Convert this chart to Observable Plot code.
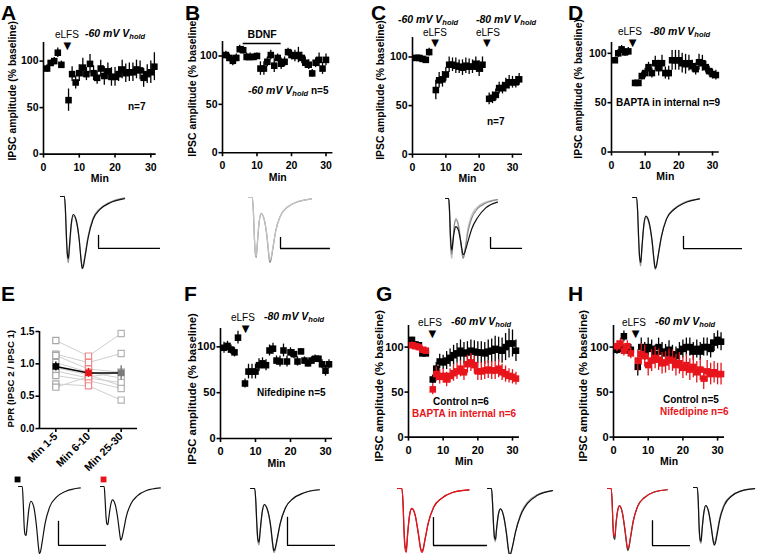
<!DOCTYPE html>
<html><head><meta charset="utf-8">
<script src="https://cdn.jsdelivr.net/npm/d3@7"></script>
<script src="https://cdn.jsdelivr.net/npm/@observablehq/plot@0.6"></script>
<style>
html,body{margin:0;padding:0;background:#fff}
#fig{position:relative;width:760px;height:554px;overflow:hidden;font-family:"Liberation Sans",Arial,sans-serif;color:#000}
#fig svg{position:absolute;overflow:visible}
.letter{position:absolute;font-size:21px;font-weight:bold;line-height:21px}
.ann{position:absolute;font-size:10px;line-height:12px;white-space:nowrap;transform:translateY(-50%)}
.b{font-weight:bold}
.vh{font-weight:bold;font-style:italic;font-size:10.5px}
.vh sub{font-size:7.5px;vertical-align:-2px}
</style></head>
<body><div id="fig"></div>
<script>
// ================= DATA =================
const yLabel = "IPSC amplitude (% baseline)";
const xLabel = "Min";
const pprLabel = "PPR (IPSC 2 / IPSC 1)";
const timeTicks = [0, 10, 20, 30];
const ampTicks = [0, 50, 100];
const pprTicks = [0, 0.5, 1.0, 1.5];

const preMin = [1, 2, 3, 4, 5];
const postMin = [7, 8, 9, 10, 11, 12, 13, 14, 15, 16, 17, 18, 19, 20, 21, 22, 23, 24, 25, 26, 27, 28, 29, 30, 31];
const stdMin = preMin.concat(postMin);

// A
const aVal = [92, 98, 100, 109, 96, 58, 86, 77, 87, 93, 86, 97, 87, 82, 92, 84, 89, 83, 83, 86, 91, 87, 88, 88, 91, 90, 82, 86, 88, 94];
const aErr = [4, 3, 4, 5, 4, 12, 8, 7, 9, 10, 7, 10, 8, 7, 9, 10, 9, 10, 10, 8, 10, 10, 10, 10, 10, 10, 10, 10, 12, 15];
// B
const bMin = [1, 2, 3, 4, 5, 6, 7, 8, 9, 10, 11, 12, 13, 14, 15, 16, 17, 18, 19, 20, 21, 22, 23, 24, 25, 26, 27, 28, 29, 30];
const bVal = [101, 98, 95, 98, 107, 106, 99, 99, 99, 100, 87, 87, 94, 101, 90, 98, 92, 94, 104, 101, 100, 101, 98, 93, 91, 82, 93, 96, 87, 96];
const bErr = [4, 4, 5, 4, 4, 4, 4, 4, 3, 3, 7, 7, 5, 5, 7, 4, 6, 5, 4, 5, 6, 8, 6, 6, 5, 4, 5, 7, 6, 6];
const bdnfBar = [{start: 6, end: 17, level: 113, label: "BDNF"}];
// C
const cMin = [1, 2, 3, 4, 5, 7, 8, 9, 10, 11, 12, 13, 14, 15, 16, 17, 18, 19, 20, 21, 23, 24, 25, 26, 27, 28, 29, 30, 31, 32];
const cVal = [99, 99, 98, 97, 105, 66, 76, 77, 82, 92, 92, 91, 90, 89, 91, 90, 90, 93, 88, 92, 57, 58, 61, 68, 68, 71, 74, 74, 74, 77];
const cErr = [3, 3, 3, 3, 4, 10, 8, 8, 7, 8, 7, 8, 7, 8, 8, 8, 7, 7, 8, 8, 6, 6, 6, 6, 6, 7, 7, 6, 6, 6];
// D
const dVal = [93, 100, 104, 101, 102, 70, 70, 77, 80, 86, 80, 90, 85, 90, 80, 80, 93, 93, 93, 90, 89, 90, 87, 84, 91, 90, 86, 82, 79, 78];
const dErr = [3, 4, 4, 4, 4, 3, 3, 4, 5, 5, 5, 7, 8, 8, 6, 7, 10, 10, 10, 10, 10, 8, 6, 6, 8, 8, 6, 5, 5, 5];
// E
const eCats = ["Min 1-5", "Min 6-10", "Min 25-30"];
const eCells = [
  [1.36, 1.12, 1.47], [1.15, 1.02, 1.16], [1.13, 0.92, 0.87], [1.02, 0.87, 0.78],
  [0.94, 0.83, 0.66], [0.89, 0.78, 0.71], [0.82, 0.74, 0.62], [0.69, 0.66, 0.44], [0.64, 0.80, 0.87]
];
const eMean = [0.96, 0.86, 0.86];
const eSem = [0.07, 0.07, 0.11];
// F
const fVal = [99, 101, 97, 94, 110, 60, 73, 73, 73, 80, 82, 80, 96, 98, 85, 84, 96, 84, 94, 92, 84, 95, 85, 82, 85, 87, 87, 81, 74, 81];
const fErr = [6, 5, 5, 5, 7, 5, 8, 8, 8, 7, 6, 6, 6, 6, 5, 6, 7, 6, 5, 5, 5, 3, 4, 4, 4, 4, 3, 5, 6, 5];
// G
const gCtrlVal = [108, 103, 102, 93, 93, 64, 76, 84, 83, 85, 88, 91, 93, 96, 93, 94, 96, 95, 94, 94, 93, 95, 96, 98, 97, 96, 100, 104, 104, 96];
const gCtrlErr = [3, 3, 3, 3, 3, 5, 7, 8, 8, 10, 10, 11, 11, 12, 12, 12, 12, 12, 12, 12, 12, 13, 13, 14, 14, 14, 15, 16, 15, 12];
const gBaptaVal = [102, 101, 100, 97, 96, 53, 70, 67, 68, 64, 68, 71, 73, 76, 72, 81, 83, 80, 73, 73, 74, 75, 74, 74, 76, 72, 70, 68, 67, 65];
const gBaptaErr = [4, 4, 4, 4, 4, 6, 8, 8, 8, 8, 8, 9, 9, 9, 9, 10, 10, 10, 10, 10, 10, 10, 10, 10, 10, 9, 9, 8, 8, 7];
// H
const hCtrlVal = [97, 100, 112, 98, 97, 78, 100, 95, 100, 98, 92, 100, 95, 93, 97, 92, 90, 95, 98, 100, 100, 95, 98, 95, 100, 100, 98, 105, 108, 106];
const hCtrlErr = [5, 6, 6, 6, 6, 10, 10, 10, 10, 10, 10, 10, 10, 10, 10, 10, 10, 10, 10, 10, 10, 10, 10, 10, 10, 10, 10, 10, 10, 10];
const hNifVal = [101, 104, 96, 101, 93, 85, 92, 90, 80, 85, 88, 86, 82, 83, 86, 85, 80, 82, 77, 80, 75, 78, 72, 75, 65, 73, 70, 72, 70, 70];
const hNifErr = [6, 6, 6, 6, 6, 12, 12, 12, 12, 12, 12, 12, 12, 12, 12, 12, 12, 12, 12, 12, 12, 12, 12, 12, 12, 12, 12, 12, 12, 12];

// stimulation times (min)
const stimA = [6.7], stimC = [6.8, 22.3], stimD = [6.3], stimF = [7.2], stimG = [6.9], stimH = [6.4];

// example traces (normalized amplitude vs time, ms-like units)
const traceTime = [0, 4, 5, 6, 7, 8, 9, 11, 13, 16, 19, 21, 22, 23, 25, 28, 33, 40, 50, 65];
const trA1 = [0, 0, -0.2, -0.6, -0.85, -0.92, -0.75, -0.4, -0.27, -0.35, -0.6, -0.88, -0.97, -0.95, -0.8, -0.55, -0.3, -0.17, -0.08, -0.02];
const trA2 = [0, 0, -0.18, -0.55, -0.8, -0.86, -0.7, -0.37, -0.25, -0.33, -0.6, -0.9, -1.0, -0.98, -0.83, -0.58, -0.32, -0.18, -0.09, -0.03];
const trB1 = [0, 0, -0.2, -0.6, -0.86, -0.92, -0.74, -0.38, -0.25, -0.33, -0.6, -0.9, -1.0, -0.97, -0.8, -0.52, -0.28, -0.15, -0.07, -0.02];
const trB2 = [0, 0, -0.2, -0.58, -0.84, -0.9, -0.72, -0.37, -0.24, -0.32, -0.58, -0.87, -0.96, -0.94, -0.78, -0.52, -0.28, -0.15, -0.07, -0.02];
const trC1 = [0, 0, -0.25, -0.7, -0.95, -1.0, -0.8, -0.45, -0.33, -0.42, -0.7, -0.92, -0.98, -0.95, -0.78, -0.5, -0.27, -0.14, -0.06, -0.02];
const trC2 = [0, 0, -0.22, -0.62, -0.88, -0.93, -0.76, -0.45, -0.35, -0.45, -0.72, -0.94, -1.0, -0.97, -0.82, -0.56, -0.32, -0.17, -0.08, -0.02];
const trC3 = [0, 0, -0.18, -0.55, -0.8, -0.86, -0.75, -0.55, -0.47, -0.52, -0.72, -0.88, -0.93, -0.93, -0.86, -0.72, -0.5, -0.32, -0.16, -0.06];
const trD1 = [0, 0, -0.2, -0.62, -0.88, -0.95, -0.75, -0.4, -0.28, -0.36, -0.62, -0.9, -1.0, -0.97, -0.8, -0.54, -0.29, -0.16, -0.07, -0.02];
const trD2 = [0, 0, -0.2, -0.58, -0.84, -0.9, -0.72, -0.38, -0.26, -0.34, -0.6, -0.88, -0.98, -0.96, -0.8, -0.55, -0.3, -0.17, -0.08, -0.02];
const trE1 = [0, 0, -0.25, -0.6, -0.72, -0.73, -0.6, -0.33, -0.22, -0.3, -0.6, -0.9, -1.0, -0.98, -0.82, -0.55, -0.3, -0.16, -0.07, -0.02];
const trE2 = [0, 0, -0.2, -0.45, -0.56, -0.57, -0.47, -0.28, -0.2, -0.27, -0.5, -0.72, -0.8, -0.78, -0.66, -0.45, -0.26, -0.14, -0.06, -0.02];
const trF1 = [0, 0, -0.2, -0.6, -0.84, -0.88, -0.7, -0.38, -0.26, -0.34, -0.6, -0.9, -1.0, -0.98, -0.82, -0.55, -0.3, -0.16, -0.07, -0.02];
const trF2 = [0, 0, -0.2, -0.56, -0.8, -0.84, -0.68, -0.37, -0.25, -0.33, -0.58, -0.87, -0.97, -0.95, -0.8, -0.55, -0.3, -0.16, -0.07, -0.02];
const trG1 = [0, 0, -0.22, -0.7, -0.93, -0.97, -0.75, -0.4, -0.3, -0.4, -0.7, -0.92, -0.97, -0.95, -0.78, -0.52, -0.28, -0.15, -0.06, -0.02];
const trG2 = [0, 0, -0.2, -0.65, -0.88, -0.92, -0.72, -0.4, -0.3, -0.4, -0.68, -0.9, -0.95, -0.93, -0.77, -0.52, -0.28, -0.15, -0.06, -0.02];
const trG3 = [0, 0, -0.2, -0.55, -0.75, -0.78, -0.62, -0.38, -0.3, -0.4, -0.68, -0.93, -1.0, -0.98, -0.86, -0.64, -0.38, -0.2, -0.09, -0.03];
const trG4 = [0, 0, -0.2, -0.52, -0.72, -0.75, -0.6, -0.37, -0.3, -0.4, -0.66, -0.9, -0.97, -0.96, -0.85, -0.64, -0.4, -0.22, -0.1, -0.03];
const trH1 = [0, 0, -0.2, -0.6, -0.76, -0.78, -0.6, -0.36, -0.28, -0.38, -0.66, -0.9, -0.97, -0.95, -0.78, -0.52, -0.28, -0.15, -0.06, -0.02];
const trH2 = [0, 0, -0.2, -0.62, -0.8, -0.82, -0.62, -0.36, -0.28, -0.38, -0.68, -0.92, -1.0, -0.97, -0.8, -0.53, -0.28, -0.15, -0.06, -0.02];
const trH3 = [0, 0, -0.22, -0.7, -0.9, -0.93, -0.74, -0.42, -0.3, -0.4, -0.66, -0.88, -0.92, -0.9, -0.75, -0.5, -0.27, -0.14, -0.06, -0.02];
const trH4 = [0, 0, -0.2, -0.66, -0.86, -0.9, -0.72, -0.42, -0.3, -0.4, -0.68, -0.9, -0.96, -0.94, -0.79, -0.53, -0.29, -0.15, -0.06, -0.02];

// ================= RENDER =================
const fig = document.getElementById("fig");
const FONT = '"Liberation Sans", Arial, sans-serif';
const BLACK = "#000", RED = "#e8141b";

function place(el, left, top) { el.style.left = left + "px"; el.style.top = top + "px"; fig.appendChild(el); }

function rows(min, val, err) { return min.map((m, i) => ({m, v: val[i], e: err[i]})); }

function timePanel(L, series, stims, extraMarks = []) {
  const mL = 50, mR = 10, mT = 56, mB = 40;
  const fw = L.xmax * L.xk, fh = L.ymax * L.yk;
  const marks = [
    Plot.ruleY([0], {strokeWidth: 1.6}),
    Plot.ruleX([0], {strokeWidth: 1.6}),
    Plot.axisX({ticks: timeTicks, tickSize: 4, tickPadding: 5, strokeWidth: 1.6, fontSize: L.fs, label: null}),
    Plot.axisY({ticks: ampTicks, tickSize: 3.5, tickPadding: 1.5, strokeWidth: 1.6, fontSize: L.fs, label: null}),
    Plot.text([yLabel], {text: d => d, x: -L.labOff / L.xk, y: L.labY, rotate: -90, fontSize: L.lfs}),
    Plot.text([xLabel], {text: d => d, frameAnchor: "bottom", dy: 28, fontSize: 10.5})
  ];
  for (const s of series) {
    const data = rows(s.min, s.val, s.err);
    marks.push(Plot.ruleX(data, {x: "m", y1: d => d.v - d.e, y2: d => d.v + d.e, stroke: s.color, strokeWidth: 1.3}));
    marks.push(Plot.dot(data, {x: "m", y: "v", symbol: "square", r: 3.7, fill: s.color, stroke: "none"}));
  }
  if (stims) marks.push(Plot.text(stims.map(s => ({x: s, y: L.stimY})), {x: "x", y: "y", text: () => "\u25BC", fontSize: 10, fontFamily: "DejaVu Sans", fontWeight: "normal"}));
  marks.push(...extraMarks);
  const svg = Plot.plot({
    width: mL + fw + mR, height: mT + fh + mB,
    marginLeft: mL, marginRight: mR, marginTop: mT, marginBottom: mB,
    x: {domain: [0, L.xmax], label: null}, y: {domain: [0, L.ymax], label: null},
    style: {fontFamily: FONT, fontWeight: "bold", background: "transparent", overflow: "visible", color: "#000"},
    marks
  });
  place(svg, L.x0 - mL, L.y0 - fh - mT);
}

// Panel layouts (pixel geometry)
const LA = {x0: 42.7, xk: 3.577, xmax: 31.5, y0: 154, yk: 0.93, ymax: 120, labOff: 30.5, labY: 68, fs: 10.5, lfs: 10.4, stimY: 116};
const LB = {x0: 222, xk: 3.45, xmax: 32, y0: 152, yk: 0.967, ymax: 115, labOff: 30, labY: 68, fs: 10.5, lfs: 10.4};
const LC = {x0: 411.7, xk: 3.333, xmax: 33, y0: 154, yk: 0.973, ymax: 120, labOff: 31.5, labY: 66, fs: 10.5, lfs: 10.4, stimY: 115};
const LD = {x0: 610.7, xk: 3.367, xmax: 32, y0: 152, yk: 0.987, ymax: 111, labOff: 33, labY: 64, fs: 10.5, lfs: 10.4, stimY: 111};
const LF = {x0: 220, xk: 3.5, xmax: 32, y0: 438.3, yk: 0.917, ymax: 120, labOff: 28, labY: 54, fs: 11, lfs: 11.3, stimY: 120};
const LG = {x0: 408.3, xk: 3.467, xmax: 32, y0: 436.7, yk: 0.9, ymax: 124, labOff: 29, labY: 57, fs: 11, lfs: 11.3, stimY: 115};
const LH = {x0: 613, xk: 3.47, xmax: 32, y0: 437, yk: 0.9, ymax: 124, labOff: 30, labY: 57, fs: 11, lfs: 11.3, stimY: 115};

timePanel(LA, [{min: stdMin, val: aVal, err: aErr, color: BLACK}], stimA);
timePanel(LB, [{min: bMin, val: bVal, err: bErr, color: BLACK}], null, [
  Plot.ruleY(bdnfBar, {y: "level", x1: "start", x2: "end", strokeWidth: 1.5}),
  Plot.text(bdnfBar, {x: d => (d.start + d.end) / 2, y: "level", text: "label", dy: -9, fontSize: 10.5})
]);
timePanel(LC, [{min: cMin, val: cVal, err: cErr, color: BLACK}], stimC);
timePanel(LD, [{min: stdMin, val: dVal, err: dErr, color: BLACK}], stimD);
timePanel(LF, [{min: stdMin, val: fVal, err: fErr, color: BLACK}], stimF);
timePanel(LG, [
  {min: stdMin, val: gCtrlVal, err: gCtrlErr, color: BLACK},
  {min: stdMin, val: gBaptaVal, err: gBaptaErr, color: RED}
], stimG);
timePanel(LH, [
  {min: stdMin, val: hCtrlVal, err: hCtrlErr, color: BLACK},
  {min: stdMin, val: hNifVal, err: hNifErr, color: RED}
], stimH);

// Panel E (PPR)
(function () {
  const L = {left: 39, right: 137, y0: 427.7, yk: 64.7, ymax: 1.5, labOff: 29, labY: 0.77};
  const mL = 50, mR = 10, mT = 20, mB = 60;
  const fw = L.right - L.left, fh = L.ymax * L.yk;
  const xk = fw / 3;
  const cellRows = [];
  eCells.forEach((c, ci) => c.forEach((v, i) => cellRows.push({cell: ci, k: i + 1, v})));
  const meanRows = eMean.map((v, i) => ({k: i + 1, v, e: eSem[i]}));
  const openCol = ["#a8a8a8", "#f08a8a", "#b4b4b4"];
  const meanCol = ["#000", RED, "#7a7a7a"];
  const svg = Plot.plot({
    width: mL + fw + mR, height: mT + fh + mB,
    marginLeft: mL, marginRight: mR, marginTop: mT, marginBottom: mB,
    x: {domain: [0.5, 3.5], label: null}, y: {domain: [0, L.ymax], label: null},
    style: {fontFamily: FONT, fontWeight: "bold", background: "transparent", overflow: "visible"},
    marks: [
      Plot.line(cellRows, {x: "k", y: "v", z: "cell", stroke: "#cfcfcf", strokeWidth: 1}),
      Plot.dot(cellRows, {x: "k", y: "v", symbol: "square", r: 3.5, fill: "white", stroke: d => openCol[d.k - 1], strokeWidth: 1.2}),
      Plot.line(meanRows, {x: "k", y: "v", stroke: "#000", strokeWidth: 1.5}),
      Plot.ruleX(meanRows, {x: "k", y1: d => d.v - d.e, y2: d => d.v + d.e, stroke: d => meanCol[d.k - 1], strokeWidth: 1.4}),
      Plot.dot(meanRows, {x: "k", y: "v", symbol: "square", r: 3.7, fill: d => meanCol[d.k - 1], stroke: "none"}),
      Plot.ruleY([0], {strokeWidth: 1.6}),
      Plot.ruleX([0.5], {strokeWidth: 1.6}),
      Plot.axisY({ticks: pprTicks, tickFormat: d3.format(".1f"), tickSize: 3.5, tickPadding: 1.5, strokeWidth: 1.6, fontSize: 10.3, label: null}),
      Plot.axisX({ticks: [1, 2, 3], tickFormat: i => eCats[i - 1], tickRotate: -45, tickSize: 4, tickPadding: 2, strokeWidth: 1.6, fontSize: 10.8, label: null}),
      Plot.text([pprLabel], {text: d => d, x: 0.5 - L.labOff / xk, y: L.labY, rotate: -90, fontSize: 9.6})
    ]
  });
  place(svg, L.left - mL, L.y0 - fh - mT);
})();

// Example traces
function traceGroup(G) {
  const xMax = 112, pad = 12;
  const marks = [];
  G.traces.forEach(([arr, color]) => {
    marks.push(Plot.line(traceTime.map((t, i) => ({t, a: arr[i]})), {x: "t", y: "a", stroke: color, strokeWidth: 1.2, curve: "monotone-x"}));
  });
  if (G.bar) marks.push(
    Plot.ruleX([G.bar], {x: "x", y1: "y1", y2: "y2", strokeWidth: 1.3}),
    Plot.ruleY([G.bar], {y: "y2", x1: "x", x2: "x2", strokeWidth: 1.3})
  );
  if (G.marker) marks.push(Plot.dot([G.marker], {x: "t", y: "a", symbol: "square", r: 3.3, fill: G.marker.color, stroke: "none"}));
  const w = xMax * G.kx, h = G.ky + 2 * pad;
  const svg = Plot.plot({
    width: w, height: h, margin: 0,
    x: {domain: [0, xMax], range: [0, w], axis: null},
    y: {domain: [-1, 0], range: [pad + G.ky, pad], axis: null},
    style: {overflow: "visible", background: "transparent"},
    marks
  });
  place(svg, G.ox, G.oy - pad);
}
const GRAY = "#9a9a9a", LGRAY = "#c4c4c4";
[
  {ox: 60, kx: 0.985, oy: 196, ky: 72, traces: [[trA1, GRAY], [trA2, "#111"]], bar: {x: 38.6, x2: 101.5, y1: -0.54, y2: -0.72}},
  {ox: 248, kx: 0.97, oy: 197, ky: 65, traces: [[trB1, "#8c8c8c"], [trB2, LGRAY]], bar: {x: 33, x2: 84.5, y1: -0.615, y2: -0.785}},
  {ox: 445, kx: 0.8, oy: 198, ky: 60, traces: [[trC1, LGRAY], [trC2, "#8a8a8a"], [trC3, "#111"]], bar: {x: 56.3, x2: 96.3, y1: -0.65, y2: -0.833}},
  {ox: 632, kx: 1.03, oy: 197, ky: 72, traces: [[trD1, GRAY], [trD2, "#111"]], bar: {x: 49.5, x2: 106.8, y1: -0.54, y2: -0.71}},
  {ox: 18, kx: 0.95, oy: 486, ky: 67, traces: [[trE1, "#111"]], bar: {x: 42.1, x2: 92.6, y1: -0.52, y2: -0.88}, marker: {t: -1, a: 0.105, color: "#000"}},
  {ox: 100, kx: 0.92, oy: 486, ky: 67, traces: [[trE2, "#111"]], marker: {t: 3.3, a: 0.105, color: RED}},
  {ox: 250, kx: 1.06, oy: 488, ky: 64, traces: [[trF1, GRAY], [trF2, "#111"]], bar: {x: 34.9, x2: 80.2, y1: -0.45, y2: -0.89}},
  {ox: 397, kx: 1.1, oy: 488, ky: 66, traces: [[trG2, "#a01018"], [trG1, RED]], bar: {x: 32.7, x2: 81.8, y1: -0.44, y2: -0.864}},
  {ox: 487, kx: 1.0, oy: 488, ky: 68, traces: [[trG3, GRAY], [trG4, "#111"]]},
  {ox: 607, kx: 0.92, oy: 488, ky: 62, traces: [[trH2, "#333"], [trH1, RED]], bar: {x: 48.9, x2: 90.2, y1: -0.52, y2: -0.92}},
  {ox: 693, kx: 0.94, oy: 487, ky: 60, traces: [[trH3, GRAY], [trH4, "#111"]]}
].forEach(traceGroup);

// Panel letters
[["A", 1, 2], ["B", 185, 2], ["C", 371, 2], ["D", 568, 2], ["E", 1, 283], ["F", 184, 283], ["G", 376, 283], ["H", 568, 283]]
  .forEach(([t, x, y]) => { const d = document.createElement("div"); d.className = "letter"; d.textContent = t; place(d, x, y); });

// Annotations
const vh = v => `<span class="vh">${v} mV V<sub>hold</sub></span>`;
function ann(html, x, y, cls, color) {
  const d = document.createElement("div"); d.className = "ann" + (cls ? " " + cls : ""); d.innerHTML = html;
  if (color) d.style.color = color; place(d, x, y);
}
ann("eLFS", 55, 35); ann(vh("-60"), 85, 35); ann("n=7", 128, 107, "b");
ann(vh("-60") + ' <span class="b">n=5</span>', 248, 92);
ann(vh("-60"), 398, 21); ann("eLFS", 423, 33); ann(vh("-80"), 476, 21); ann("eLFS", 476, 33); ann("n=7", 487, 122, "b");
ann("eLFS", 618, 32); ann(vh("-80"), 650, 33); ann("BAPTA in internal n=9", 616, 103, "b");
ann("eLFS", 231, 318); ann(vh("-80"), 264, 318); ann("Nifedipine n=5", 257, 393, "b");
ann("eLFS", 418, 323); ann(vh("-60"), 451, 323); ann("Control n=6", 433, 402, "b"); ann("BAPTA in internal n=6", 412, 414, "b", RED);
ann("eLFS", 622, 323); ann(vh("-60"), 655, 323); ann("Control n=5", 663, 400, "b"); ann("Nifedipine n=6", 660, 412, "b", RED);
</script></body></html>
